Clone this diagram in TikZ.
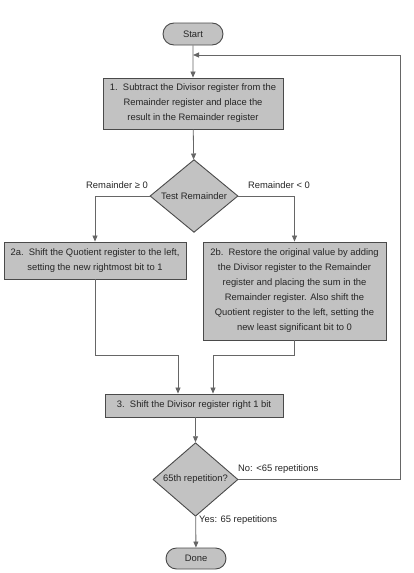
\documentclass[tikz,border=0pt]{standalone}
\usepackage{fontspec}
\setmainfont{Liberation Sans}
\usetikzlibrary{shapes.geometric,shapes.misc,arrows.meta,calc}
\definecolor{boxfill}{HTML}{C2C2C2}
\definecolor{boxedge}{HTML}{4A4A4A}
\definecolor{linecol}{HTML}{666666}
\definecolor{txt}{HTML}{262626}
\begin{document}
\begin{tikzpicture}[x=1pt,y=-1pt,
  every node/.style={font=\fontsize{9.4}{15}\selectfont, text=txt},
  procbox/.style={draw=boxedge, fill=boxfill, line width=0.9pt, rectangle, inner sep=0pt, align=center},
  term/.style={draw=boxedge, fill=boxfill, line width=0.9pt, rounded rectangle, inner sep=0pt, minimum width=60pt, minimum height=22pt},
  decide/.style={draw=boxedge, fill=boxfill, line width=0.9pt, diamond, inner sep=0pt},
  lbl/.style={inner sep=0pt},
  arr/.style={draw=linecol, line width=0.8pt, -{Triangle[length=6pt,width=5pt]}},
  ln/.style={draw=linecol, line width=0.8pt}]
\useasboundingbox (0,0) rectangle (414,573);
\fill[white] (0,0) rectangle (414,573);

\node[term] (start) at (193,34) {Start};
\node[procbox, minimum width=180pt, minimum height=51pt] (box1) at (193,103.5)
  {1.\ \ Subtract the Divisor register from the\\Remainder register and place the\\result in the Remainder register};
\node[decide, minimum width=88pt, minimum height=66pt] (d1) at (194,196) {Test Remainder};
\node[procbox, minimum width=182pt, minimum height=37pt] (box2a) at (95,260.5)
  {2a.\ \ Shift the Quotient register to the left,\\setting the new rightmost bit to 1};
\node[procbox, minimum width=183pt, minimum height=98pt] (box2b) at (294.5,291)
  {2b.\ \ Restore the original value by adding\\the Divisor register to the Remainder\\register and placing the sum in the\\Remainder register. Also shift the\\Quotient register to the left, setting the\\new least significant bit to 0};
\node[procbox, minimum width=178pt, minimum height=23pt] (box3) at (194,405.5)
  {3.\ \ Shift the Divisor register right 1 bit};
\node[decide, minimum width=85pt, minimum height=65pt] (d2) at (195.5,479.5) {65th repetition?};
\node[term, minimum height=21pt] (done) at (196,558.5) {Done};

\node[lbl] (lge) at (117,185) {Remainder ≥ 0};
\node[lbl] (llt) at (279,185) {Remainder < 0};
\node[lbl, anchor=west] (lno) at (238,469) {No: <65 repetitions};
\node[lbl, anchor=west] (lyes) at (199,520) {Yes: 65 repetitions};

\coordinate (j) at (193,55);
\coordinate (rt) at (400,55);
\coordinate (ja) at (178,355);
\coordinate (jb) at (213,355);

\draw[arr] (start) -- (box1);
\draw[arr] (box1) -- (d1);
\draw[arr] (d1.west) -| (box2a.north);
\draw[arr] (d1.east) -| (box2b.north);
\draw[arr] (box2a.south) |- (ja) -- (ja |- box3.north);
\draw[arr] (box2b.south) |- (jb) -- (jb |- box3.north);
\draw[arr] (box3.south -| d2.north) -- (d2.north);
\draw[arr] (d2) -- (done);
\draw[arr] (d2.east) -| (rt) -- (j);
\end{tikzpicture}
\end{document}
